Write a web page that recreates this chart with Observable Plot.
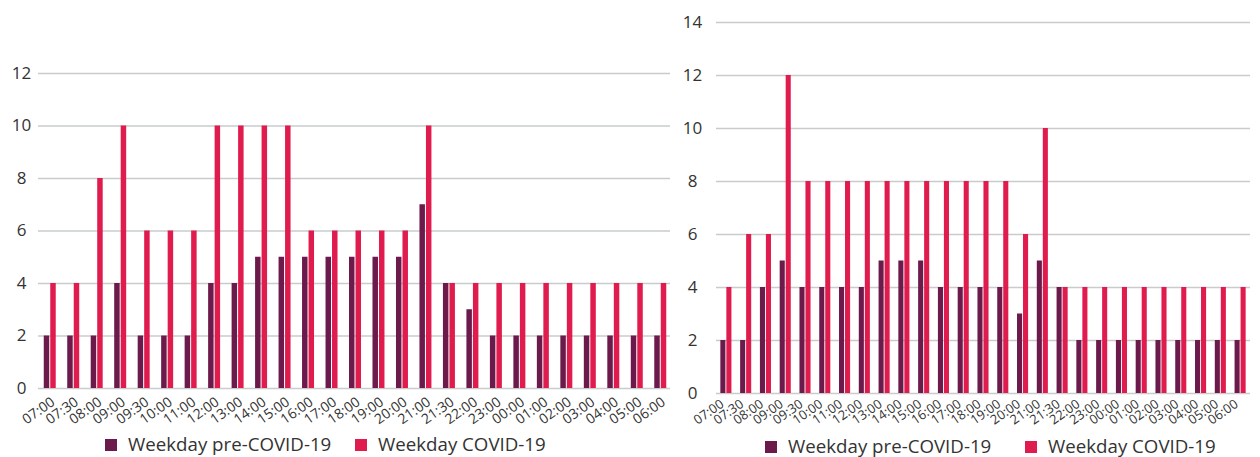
<!DOCTYPE html>
<html>
<head>
<meta charset="utf-8">
<script src="https://cdn.jsdelivr.net/npm/d3@7"></script>
<script src="https://cdn.jsdelivr.net/npm/@observablehq/plot@0.6"></script>
<style>
  body { margin: 0; background: #fff; font-family: "Open Sans", sans-serif; }
  #wrap { position: relative; width: 1260px; height: 457px; overflow: hidden; }
  .chart { position: absolute; top: 0; }
  .leg { position: absolute; font-size: 18.7px; color: #333; white-space: nowrap; line-height: 18px; }
  .sw { position: absolute; width: 12px; height: 12px; }
</style>
</head>
<body>
<div id="wrap">
  <div id="left" class="chart" style="left:0px"></div>
  <div id="right" class="chart" style="left:670px"></div>
</div>
<script>
const times = ["07:00","07:30","08:00","09:00","09:30","10:00","11:00","12:00","13:00","14:00","15:00","16:00","17:00","18:00","19:00","20:00","21:00","21:30","22:00","23:00","00:00","01:00","02:00","03:00","04:00","05:00","06:00"];
const seriesNames = ["Weekday pre-COVID-19", "Weekday COVID-19"];
const colors = ["#6b1a4b", "#e01b4e"];

const leftPre   = [2,2,2,4,2,2,2,4,4,5,5,5,5,5,5,5,7,4,3,2,2,2,2,2,2,2,2];
const leftCovid = [4,4,8,10,6,6,6,10,10,10,10,6,6,6,6,6,10,4,4,4,4,4,4,4,4,4,4];
const rightPre   = [2,2,4,5,4,4,4,4,5,5,5,4,4,4,4,3,5,4,2,2,2,2,2,2,2,2,2];
const rightCovid = [4,6,6,12,8,8,8,8,8,8,8,8,8,8,8,6,10,4,4,4,4,4,4,4,4,4,4];

const leftTicks = [0,2,4,6,8,10,12];
const rightTicks = [0,2,4,6,8,10,12,14];

function makeChart({pre, covid, ticks, width, height, mL, mR, mT, mB, yMax, padding, half, tickPad, xFont, xPad, xDx}) {
  const preData = times.map((t, i) => ({t, v: pre[i]}));
  const covData = times.map((t, i) => ({t, v: covid[i]}));
  return Plot.plot({
    width, height,
    marginLeft: mL, marginRight: mR, marginTop: mT, marginBottom: mB,
    style: {fontFamily: "'Open Sans', sans-serif", color: "#333", background: "#fff"},
    x: {type: "band", domain: times, paddingInner: padding, paddingOuter: padding / 2, round: false, axis: null, label: null},
    y: {domain: [0, yMax], axis: null, label: null},
    marks: [
      Plot.ruleY(ticks, {stroke: "#c9cccc", strokeWidth: 1.3}),
      Plot.barY(preData, {x: "t", y: "v", fill: colors[0], insetRight: half}),
      Plot.barY(covData, {x: "t", y: "v", fill: colors[1], insetLeft: half}),
      Plot.axisY(ticks, {tickSize: 0, tickPadding: tickPad, textAnchor: "middle", fontSize: 17, fill: "#333", label: null}),
      Plot.axisX(times, {tickSize: 0, tickRotate: -35, fontSize: xFont, fill: "#333", tickPadding: xPad, dx: xDx, label: null})
    ]
  });
}

document.getElementById("left").append(makeChart({
  pre: leftPre, covid: leftCovid, ticks: leftTicks,
  width: 680, height: 435, mL: 38, mR: 8, mT: 73, mB: 47, yMax: 12,
  padding: 0.49, half: 6.5, tickPad: 17, xFont: 14, xPad: 12, xDx: 3
}));
document.getElementById("right").append(makeChart({
  pre: rightPre, covid: rightCovid, ticks: rightTicks,
  width: 590, height: 435, mL: 46, mR: 10, mT: 22, mB: 42, yMax: 14,
  padding: 0.44, half: 6, tickPad: 24, xFont: 13, xPad: 9, xDx: -4
}));

const wrap = document.getElementById("wrap");
const legendItems = [
  {x: 105, y: 439, s: 0}, {x: 355, y: 439, s: 1},
  {x: 765, y: 441, s: 0}, {x: 1025, y: 441, s: 1}
];
legendItems.forEach(({x, y, s}) => {
  const sw = document.createElement("div");
  sw.className = "sw";
  sw.style.left = x + "px"; sw.style.top = y + "px"; sw.style.background = colors[s];
  wrap.append(sw);
  const tx = document.createElement("div");
  tx.className = "leg";
  tx.style.left = (x + 23) + "px"; tx.style.top = (y - 4) + "px";
  tx.textContent = seriesNames[s];
  wrap.append(tx);
});
</script>
</body>
</html>
